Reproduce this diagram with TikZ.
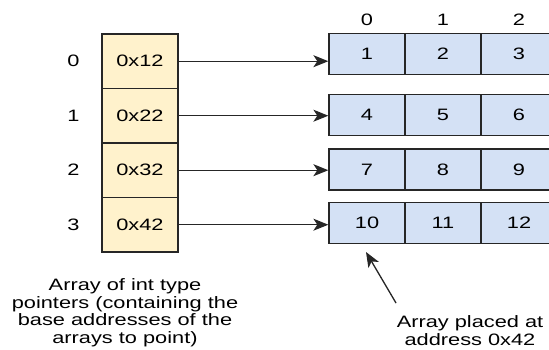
\documentclass[tikz,border=0pt]{standalone}
\usepackage{fontspec}
\setmainfont{Liberation Sans}[FakeStretch=1.32]
\usetikzlibrary{arrows.meta}

\definecolor{ptrfill}{HTML}{FFF2CC}
\definecolor{arrfill}{HTML}{D4E1F5}

\tikzset{
  ptrcell/.style={draw=black!85, line width=1.3pt, fill=ptrfill,
    minimum width=76pt, minimum height=54.5pt, inner sep=0pt},
  arrcell/.style={draw=black!85, line width=1.3pt, fill=arrfill,
    minimum width=76pt, minimum height=41pt, inner sep=0pt},
  idx/.style={inner sep=0pt},
  ptr/.style={-{Stealth[length=15pt,width=12pt,inset=4pt]}, line width=1.3pt, draw=black!85, fill=black!85},
}

\begin{document}
\begin{tikzpicture}[x=1pt,y=-1pt, every node/.style={font=\fontsize{16.5}{17.5}\selectfont}]
\useasboundingbox (0,0) rectangle (549,349);
\clip (0,0) rectangle (549,349);

   % pointer array
   \node[ptrcell] at (140,61.2)  (p0) {0x12};
   \node[ptrcell] at (140,115.7) (p1) {0x22};
   \node[ptrcell] at (140,170.2) (p2) {0x32};
   \node[ptrcell] at (140,224.7) (p3) {0x42};

   \node[idx] at (73.5,61.2)  (i0) {0};
   \node[idx] at (73.5,115.7) (i1) {1};
   \node[idx] at (73.5,170.2) (i2) {2};
   \node[idx] at (73.5,224.7) (i3) {3};

   % the int arrays
   \node[idx] at (367,20) (h0) {0};
   \node[idx] at (443,20) (h1) {1};
   \node[idx] at (519,20) (h2) {2};

   \node[arrcell] at (367,53.7) (a00) {1};
   \node[arrcell] at (443,53.7) (a01) {2};
   \node[arrcell] at (519,53.7) (a02) {3};

   \node[arrcell] at (367,115.3) (a10) {4};
   \node[arrcell] at (443,115.3) (a11) {5};
   \node[arrcell] at (519,115.3) (a12) {6};

   \node[arrcell] at (367,169.5) (a20) {7};
   \node[arrcell] at (443,169.5) (a21) {8};
   \node[arrcell] at (519,169.5) (a22) {9};

   \node[arrcell] at (367,223) (a30) {10};
   \node[arrcell] at (443,223) (a31) {11};
   \node[arrcell] at (519,223) (a32) {12};

   \draw[ptr] (p0) -- (p0 -| a00.west);
   \draw[ptr] (p1) -- (p1 -| a10.west);
   \draw[ptr] (p2) -- (p2 -| a20.west);
   \draw[ptr] (p3) -- (p3 -| a30.west);

   % notes (base = last line)
   \node[align=center, anchor=base] at (125,343) (ptrnote)
     {Array of int type\\pointers (containing the\\base addresses of the\\arrays to point)};
   \node[align=center, anchor=base] at (470,345) (arrnote)
     {Array placed at\\address 0x42};

   \coordinate (tail) at (396,303);
   \coordinate (tip) at (366,252);
   \draw[ptr] (tail) -- (tip);

\end{tikzpicture}
\end{document}
